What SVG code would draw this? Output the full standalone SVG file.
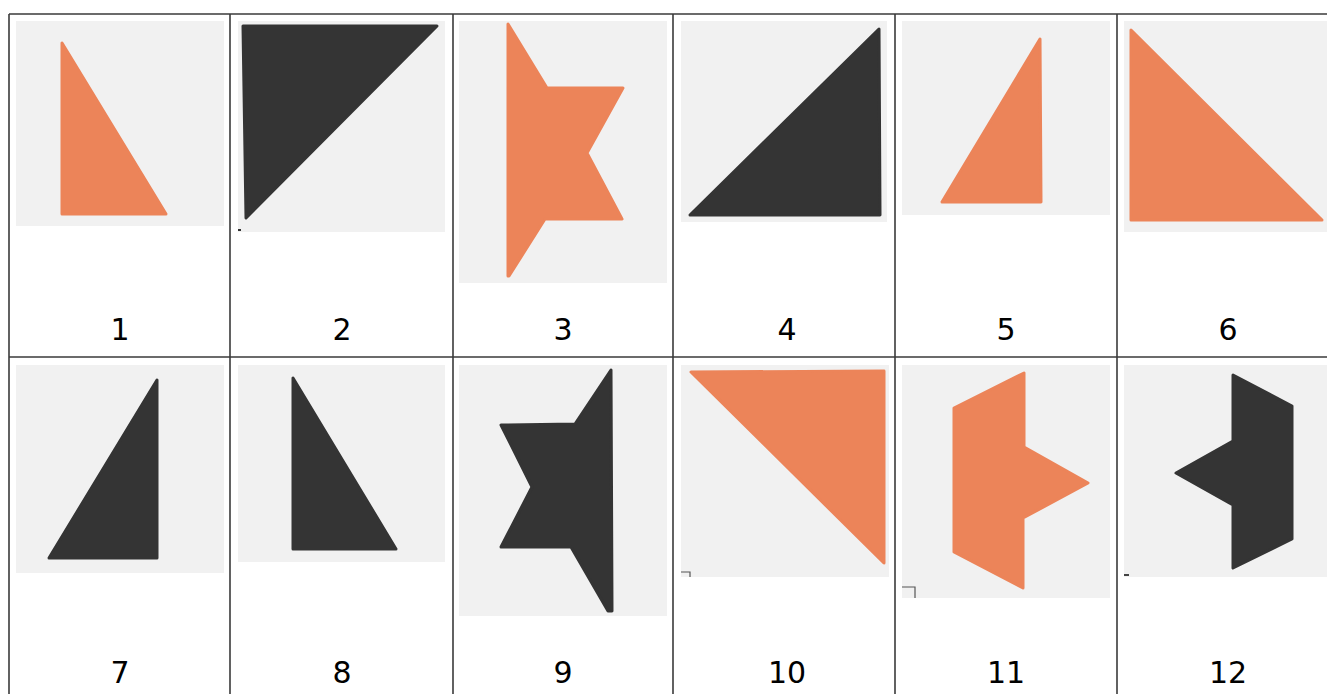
<svg xmlns="http://www.w3.org/2000/svg" width="1327" height="694" viewBox="0 0 1327 694">
<style>
.bg{fill:#f1f1f1}
.o{fill:#ec8459;stroke:#ec8459;stroke-width:3;stroke-linejoin:round}
.k{fill:#343434;stroke:#343434;stroke-width:3;stroke-linejoin:round}
.grid{stroke:#3a3a3a;stroke-width:1.6;fill:none}
.lbl{font-family:"DejaVu Sans","Liberation Sans",sans-serif;font-size:30px;fill:#000;text-anchor:middle}
.m{fill:none;stroke:#555;stroke-width:1.2}
</style>
<rect width="1327" height="694" fill="#fff"/>
<g id="grid" class="grid">
<line x1="9" y1="14" x2="1327" y2="14"/>
<line x1="9" y1="357" x2="1327" y2="357"/>
<line x1="9" y1="14" x2="9" y2="694"/>
<line x1="230" y1="14" x2="230" y2="694"/>
<line x1="453" y1="14" x2="453" y2="694"/>
<line x1="673" y1="14" x2="673" y2="694"/>
<line x1="895" y1="14" x2="895" y2="694"/>
<line x1="1117" y1="14" x2="1117" y2="694"/>
</g>
<g id="cell1">
<rect class="bg" x="16" y="21" width="208" height="205"/>
<polygon class="o" points="62,43 62,214 166,214"/>
<text class="lbl" x="120" y="340">1</text>
</g>
<g id="cell2">
<rect class="bg" x="238" y="21" width="207" height="211"/>
<polygon class="k" points="243,26 437,26 246,218"/>
<rect x="238" y="229" width="3" height="2" fill="#333"/>
<text class="lbl" x="342" y="340">2</text>
</g>
<g id="cell3">
<rect class="bg" x="459" y="21" width="208" height="262"/>
<polygon class="o" points="508,24 547,88 623,88 587,153 622,219 545,219 509,276 508,276"/>
<text class="lbl" x="563" y="340">3</text>
</g>
<g id="cell4">
<rect class="bg" x="681" y="21" width="206" height="201"/>
<polygon class="k" points="690,215 879,29 880,215"/>
<text class="lbl" x="787" y="340">4</text>
</g>
<g id="cell5">
<rect class="bg" x="902" y="21" width="208" height="194"/>
<polygon class="o" points="1040,39 1041,202 942,202"/>
<text class="lbl" x="1006" y="340">5</text>
</g>
<g id="cell6">
<rect class="bg" x="1124" y="21" width="203" height="211"/>
<polygon class="o" points="1131,30 1131,220 1322,220"/>
<text class="lbl" x="1228" y="340">6</text>
</g>
<g id="cell7">
<rect class="bg" x="16" y="365" width="208" height="208"/>
<polygon class="k" points="157,380 157,558 49,558"/>
<text class="lbl" x="120" y="683">7</text>
</g>
<g id="cell8">
<rect class="bg" x="238" y="365" width="207" height="197"/>
<polygon class="k" points="293,378 293,549 396,549"/>
<text class="lbl" x="342" y="683">8</text>
</g>
<g id="cell9">
<rect class="bg" x="459" y="365" width="208" height="251"/>
<polygon class="k" points="611,370 612,611 608,611 571,547 501,547 532,487 501,425 575,424"/>
<text class="lbl" x="563" y="683">9</text>
</g>
<g id="cell10">
<rect class="bg" x="681" y="365" width="208" height="212"/>
<polygon class="o" points="691,372 884,371 884,563"/>
<path class="m" d="M681,572 H690 V577"/>
<text class="lbl" x="787" y="683">10</text>
</g>
<g id="cell11">
<rect class="bg" x="902" y="365" width="208" height="233"/>
<polygon class="o" points="1024,373 1024,447 1088,483 1023,518 1023,588 954,552 954,408"/>
<path class="m" d="M902,587 H915 V598"/>
<text class="lbl" x="1006" y="683">11</text>
</g>
<g id="cell12">
<rect class="bg" x="1124" y="365" width="203" height="212"/>
<polygon class="k" points="1233,375 1292,406 1292,539 1233,568 1233,505 1176,473 1233,441"/>
<rect x="1124" y="574" width="5" height="2" fill="#444"/>
<text class="lbl" x="1228" y="683">12</text>
</g>
</svg>
